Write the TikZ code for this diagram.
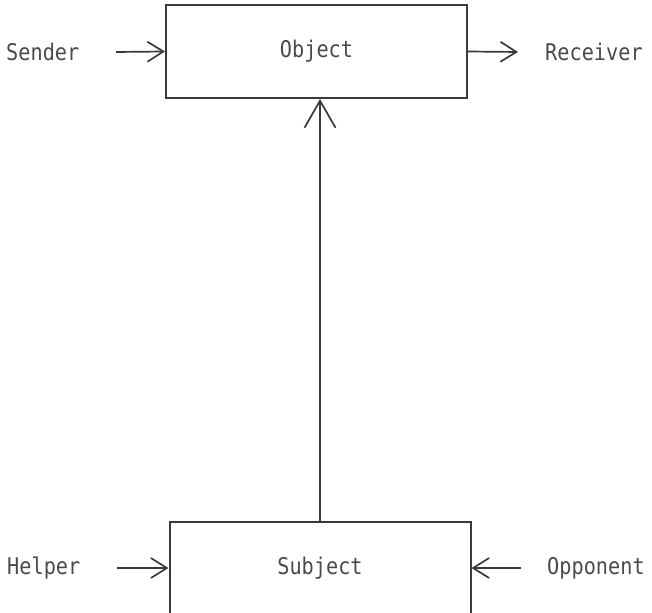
\documentclass[tikz,border=0pt]{standalone}
\usepackage{fontspec}
\setmonofont[FakeStretch=0.88]{DejaVu Sans Mono}
\usetikzlibrary{arrows.meta}
\definecolor{ink}{HTML}{3A3A3A}
\definecolor{typed}{HTML}{4A4A4A}
\tikzset{
  actant/.style={draw=ink, line width=2pt, minimum width=301pt, minimum height=93pt, inner sep=0pt,
                 font=\ttfamily\fontsize{23}{23}\selectfont, text=typed},
  role/.style={font=\ttfamily\fontsize{23}{23}\selectfont, text=typed, inner sep=0pt},
  flow/.style={draw=ink, line width=1.7pt, -{Straight Barb[length=16pt,width=20pt,line width=1.7pt]}},
  axis/.style={draw=ink, line width=1.7pt, -{Straight Barb[length=27pt,width=31pt,line width=1.7pt]}}
}
\begin{document}
\begin{tikzpicture}[x=1pt,y=-1pt]
  \useasboundingbox (0,0) rectangle (652,612);
  % the two boxes of the actantial model
  \node[actant] (object) at (316.5,51.5) {Object};
  \node[actant, minimum height=92pt] (subject) at (320,568) {Subject};
  % the roles around them
  \node[role, anchor=west] (sender) at (6,52) {Sender};
  \node[role, anchor=west] (receiver) at (545,52) {Receiver};
  \node[role, anchor=west] (helper) at (7,568) {Helper};
  \node[role, anchor=west] (opponent) at (547,568) {Opponent};
  % arrows
  \coordinate (s0) at (116,52);
  \coordinate (r1) at (518,52);
  \coordinate (h0) at (117,568);
  \coordinate (o0) at (521,568);
  \draw[flow] (s0) -- (object.west);
  \draw[flow] (object.east) -- (r1);
  \draw[flow] (h0) -- (subject.west);
  \draw[flow] (o0) -- (subject.east);
  \draw[axis] (subject.north -| 320,0) -- (320,99);
\end{tikzpicture}
\end{document}
